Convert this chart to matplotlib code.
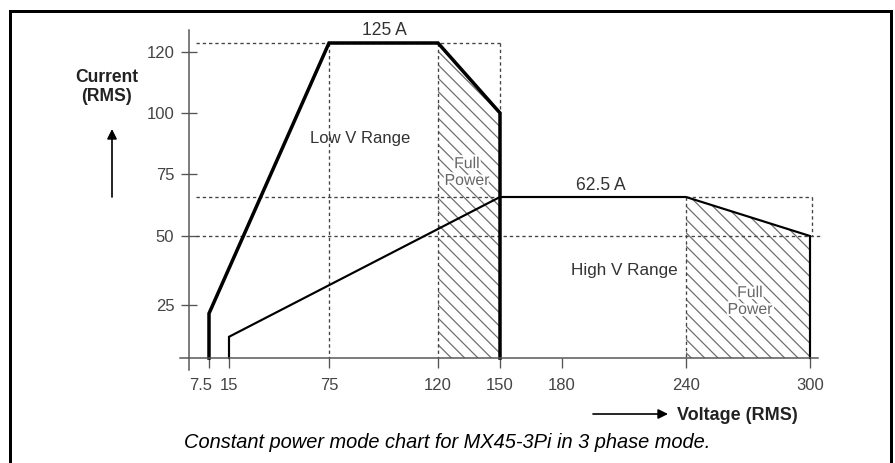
import numpy as np
import matplotlib
matplotlib.use('Agg')
import matplotlib.pyplot as plt
from matplotlib.patches import Rectangle
import matplotlib.patheffects as pe
import matplotlib.transforms as mtransforms

plt.rcParams['font.family'] = ['Liberation Sans', 'DejaVu Sans']
plt.rcParams['hatch.linewidth'] = 0.75

# ---- data (volts / amps RMS) ----
low_range_v = [7.5, 7.5, 75, 120, 150, 150]
low_range_a = [0, 21, 125, 125, 100, 0]
high_range_v = [15, 15, 150, 240, 300, 300]
high_range_a = [0, 10, 62.5, 62.5, 50, 0]

full_power_low_v = [120, 120, 150, 150]
full_power_low_a = [0, 125, 100, 0]
full_power_high_v = [240, 240, 300, 300]
full_power_high_a = [0, 62.5, 50, 0]

volt_ticks = [7.5, 15, 75, 120, 150, 180, 240, 300]
volt_ticklabels = ['7.5', '15', '75', '120', '150', '180', '240', '300']
amp_ticks = [25, 50, 75, 100, 120]
amp_ticklabels = ['25', '50', '75', '100', '120']

# ---- the drawing uses uneven spacing on both axes (piecewise scale) ----
V_KNOTS = np.array([-75, 0, 7.5, 15, 75, 120, 150, 300, 345])
V_PIX = np.array([-11, 189, 209, 229, 329, 438, 500, 810, 903])
A_KNOTS = np.array([-60, 0, 25, 50, 62.5, 75, 100, 120, 125, 160])
A_PIX = np.array([-22, 105, 158, 227, 266, 289, 350, 411, 420, 483])

W, H, DPI = 895, 463, 120


def fwd_v(v):
    return np.interp(v, V_KNOTS, V_PIX)


def inv_v(p):
    return np.interp(p, V_PIX, V_KNOTS)


def fwd_a(a):
    return np.interp(a, A_KNOTS, A_PIX)


def inv_a(p):
    return np.interp(p, A_PIX, A_KNOTS)


def fpos(x, y):
    # pixel (from top-left) -> figure fraction
    return x / W, 1 - y / H


fig = plt.figure(figsize=(W / DPI, H / DPI), dpi=DPI)
ax = fig.add_axes([0, 0, 1, 1])
ax.set_xscale('function', functions=(fwd_v, inv_v))
ax.set_yscale('function', functions=(fwd_a, inv_a))
ax.set_xlim(inv_v(0), inv_v(W))
ax.set_ylim(inv_a(0), inv_a(H))
ax.patch.set_visible(False)

AX_COL = '#555555'
DASH_COL = '#444444'
HATCH_COL = '#707070'
dash = (0, (2.5, 2.2))

# axes lines
for s in ['top', 'right']:
    ax.spines[s].set_visible(False)
ax.spines['left'].set_position(('data', 0))
ax.spines['bottom'].set_position(('data', 0))
ax.spines['left'].set_bounds(-5.7, 132)
ax.spines['bottom'].set_bounds(-3.4, 304)
for s in ['left', 'bottom']:
    ax.spines[s].set_color(AX_COL)
    ax.spines[s].set_linewidth(0.9)

ax.set_xticks(volt_ticks)
ax.set_xticklabels(volt_ticklabels)
ax.set_yticks(amp_ticks)
ax.set_yticklabels(amp_ticklabels)
ax.minorticks_off()
ax.tick_params(axis='x', direction='out', length=6, width=0.8, color=AX_COL,
               labelsize=10, labelcolor='#444444', pad=6)
ax.tick_params(axis='y', direction='inout', length=9.6, width=0.8, color=AX_COL,
               labelsize=10, labelcolor='#444444', pad=4)
# nudge the crowded 7.5 label left, as in the source drawing
shift = mtransforms.ScaledTranslation(-8 / DPI, 0, fig.dpi_scale_trans)
lbl = ax.get_xticklabels()[0]
lbl.set_transform(lbl.get_transform() + shift)

# hatched full power zones
ax.fill(full_power_low_v, full_power_low_a, facecolor='none', edgecolor=HATCH_COL,
        linewidth=0, hatch='\\\\\\')
ax.fill(full_power_high_v, full_power_high_a, facecolor='none', edgecolor=HATCH_COL,
        linewidth=0, hatch='\\\\\\')

# dashed guide lines
guides = [
    ([2.5, 150], [125, 125]),
    ([150, 150], [125, 100]),
    ([75, 75], [125, 0]),
    ([120, 120], [125, 0]),
    ([2.5, 150], [62.5, 62.5]),
    ([240, 301], [62.5, 62.5]),
    ([301, 301], [62.5, 50]),
    ([2.5, 306], [50, 50]),
    ([240, 240], [62.5, 0]),
]
for gx, gy in guides:
    ax.plot(gx, gy, color=DASH_COL, lw=0.8, linestyle=dash, clip_on=False)

# operating envelopes
ax.plot(high_range_v, high_range_a, color='black', lw=1.3, solid_joinstyle='miter')
ax.plot(low_range_v, low_range_a, color='black', lw=2.1, solid_joinstyle='miter')

# labels inside the chart
TXT = '#333333'
ax.text(98, 127, '125 A', ha='center', va='bottom', fontsize=10.5, color=TXT)
ax.text(199, 64, '62.5 A', ha='center', va='bottom', fontsize=10.5, color=TXT)
fig.text(*fpos(360, 138), 'Low V Range', ha='center', va='center', fontsize=10, color=TXT)
fig.text(*fpos(624, 270), 'High V Range', ha='center', va='center', fontsize=10.3, color=TXT)
halo = [pe.withStroke(linewidth=2.5, foreground='white')]
fig.text(*fpos(467, 172), 'Full\nPower', ha='center', va='center', fontsize=9.5,
         color='#666666', linespacing=1.15, path_effects=halo)
fig.text(*fpos(750, 301), 'Full\nPower', ha='center', va='center', fontsize=9.5,
         color='#666666', linespacing=1.15, path_effects=halo)

# axis titles and arrows
fig.text(*fpos(107, 87), 'Current\n(RMS)', ha='center', va='center', fontsize=10.5,
         fontweight='bold', color='#222222', linespacing=1.1)
fig.text(*fpos(677, 415), 'Voltage (RMS)', ha='left', va='center', fontsize=10.8,
         fontweight='bold', color='#222222')
ax.annotate('', xy=fpos(112, 129), xytext=fpos(112, 197), xycoords='figure fraction',
            arrowprops=dict(arrowstyle='-|>', color='black', lw=1.0, mutation_scale=12,
                            shrinkA=0, shrinkB=0))
ax.annotate('', xy=fpos(668, 414), xytext=fpos(593, 414), xycoords='figure fraction',
            arrowprops=dict(arrowstyle='-|>', color='black', lw=1.0, mutation_scale=12,
                            shrinkA=0, shrinkB=0))

# caption
fig.text(*fpos(447, 442), 'Constant power mode chart for MX45-3Pi in 3 phase mode.',
         ha='center', va='center', fontsize=12, style='italic', color='black')

# outer frame
fig.patches.append(Rectangle(fpos(10, 480), 881 / W, 469 / H, transform=fig.transFigure,
                             fill=False, edgecolor='black', lw=1.8))

fig.savefig('out.png', dpi=DPI)
